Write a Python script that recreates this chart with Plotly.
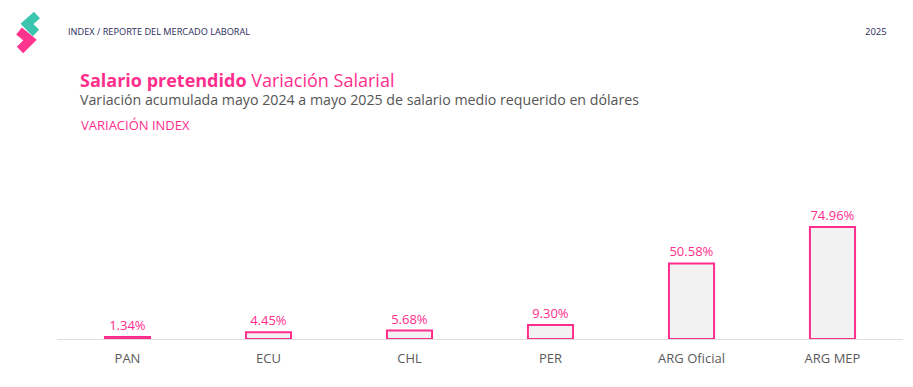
import plotly.graph_objects as go

categories = ["PAN", "ECU", "CHL", "PER", "ARG Oficial", "ARG MEP"]
values = [1.34, 4.45, 5.68, 9.30, 50.58, 74.96]
labels = ["1.34%", "4.45%", "5.68%", "9.30%", "50.58%", "74.96%"]

PINK = "#ff2e8c"
W, H = 913, 387
ML, MR, MT, MB = 57, 10, 150, 48
PW, PH = W - ML - MR, H - MT - MB

def px(x):
    return (x - ML) / PW

def py(y):
    return (H - MB - y) / PH

fig = go.Figure(go.Bar(
    x=categories, y=values, text=labels, textposition="outside",
    texttemplate="%{text}", cliponaxis=False,
    textfont=dict(color=PINK, size=13, family="Open Sans"),
    marker=dict(color="#f2f2f2", line=dict(color=PINK, width=2)),
    width=0.32, hoverinfo="skip",
))

fig.update_layout(
    width=W, height=H, margin=dict(l=ML, r=MR, t=MT, b=MB),
    paper_bgcolor="white", plot_bgcolor="white", showlegend=False,
    xaxis=dict(showline=True, linecolor="#dddddd", linewidth=1, showgrid=False,
               ticks="", ticklabelstandoff=7,
               tickfont=dict(color="#5a5a5a", size=13, family="Open Sans")),
    yaxis=dict(visible=False, range=[0, 126.5], showgrid=False, zeroline=False),
    font=dict(family="Open Sans"),
)

anns = [
    dict(x=px(66), y=py(31), text="INDEX / REPORTE DEL MERCADO LABORAL",
         font=dict(size=9.2, color="#2b2d5c"), xanchor="left", yanchor="middle"),
    dict(x=px(889), y=py(31), text="2025",
         font=dict(size=9.5, color="#2b2d5c"), xanchor="right", yanchor="middle"),
    dict(x=px(78), y=py(80), text="<b>Salario pretendido</b> Variación Salarial",
         font=dict(size=18, color=PINK), xanchor="left", yanchor="middle"),
    dict(x=px(78), y=py(99), text="Variación acumulada mayo 2024 a mayo 2025 de salario medio requerido en dólares",
         font=dict(size=14.2, color="#555555"), xanchor="left", yanchor="middle"),
    dict(x=px(79), y=py(125), text="VARIACIÓN INDEX",
         font=dict(size=13, color=PINK), xanchor="left", yanchor="middle"),
]
for a in anns:
    a.update(xref="paper", yref="paper", showarrow=False)
fig.update_layout(annotations=anns)

def path(pts):
    return "M " + " L ".join(f"{px(a)},{py(b)}" for a, b in pts)

fig.update_layout(shapes=[
    dict(type="path", xref="paper", yref="paper", path=path([(37, 15), (27, 24), (36, 33)]),
         line=dict(color="rgba(38,191,166,0.9)", width=9)),
    dict(type="path", xref="paper", yref="paper", path=path([(19, 31), (30, 40), (20, 50)]),
         line=dict(color="rgba(255,30,130,0.9)", width=9)),
])

fig.write_html("out.html", config={"displayModeBar": False},
               post_script="document.body.style.margin='0';document.body.style.padding='0';")
